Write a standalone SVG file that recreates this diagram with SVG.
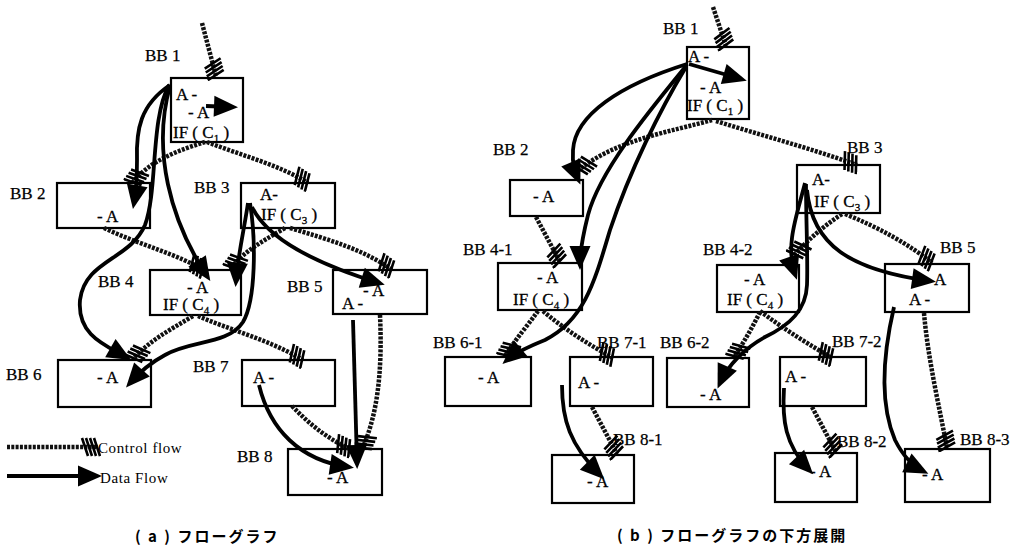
<svg xmlns="http://www.w3.org/2000/svg" width="1017" height="551" viewBox="0 0 1017 551">
<style>
.box{fill:#fff;stroke:#000;stroke-width:2.2}
.t{font-family:"Liberation Serif",serif;font-size:17px;fill:#000;stroke:#000;stroke-width:0.3}
.lbl{font-family:"Liberation Serif",serif;font-size:17px;fill:#000;stroke:#000;stroke-width:0.25}
.sub{font-size:11px}
.leg{font-family:"Liberation Serif",serif;font-size:15px;fill:#000;letter-spacing:0.6px}
.cap{font-family:"Noto Sans CJK JP","Noto Sans CJK SC",sans-serif;font-size:15px;font-weight:bold;fill:#000;letter-spacing:2px}
.cf{fill:none;stroke:#111;stroke-width:4.5;stroke-dasharray:3 1.3;marker-end:url(#hatch)}
.df{fill:none;stroke:#000;stroke-width:3.8;marker-end:url(#head)}
</style>
<defs>
<marker id="hatch" viewBox="-22 -11 25 22" refX="0" refY="0" markerWidth="25" markerHeight="22" markerUnits="userSpaceOnUse" orient="auto">
<path d="M-4,-9 L2,9 M-8,-9 L-2,9 M-12,-9 L-6,9 M-16,-9 L-10,9" stroke="#000" stroke-width="2.6" fill="none" stroke-dasharray="none"/>
</marker>
<marker id="head" viewBox="-24 -12 27 24" refX="-4" refY="0" markerWidth="27" markerHeight="24" markerUnits="userSpaceOnUse" orient="auto">
<path d="M2,0 L-22,-10.5 L-22,10.5 Z" fill="#000" stroke="none"/>
</marker>
</defs>
<rect width="1017" height="551" fill="#fff"/>

<!-- ===== (a) ===== -->
<g id="a-BB1">
<rect class="box" x="171" y="78" width="72" height="64"/>
<text class="lbl" x="145" y="61">BB 1</text>
<text class="t" x="176" y="100">A -</text>
<text class="t" x="188" y="118">- A</text>
<text class="t" x="173" y="138">IF ( C<tspan class="sub" dy="4">1</tspan><tspan dy="-4"> )</tspan></text>
</g>
<g id="a-BB2">
<rect class="box" x="57" y="183" width="93" height="45"/>
<text class="lbl" x="10" y="199">BB 2</text>
<text class="t" x="97" y="222">- A</text>
</g>
<g id="a-BB3">
<rect class="box" x="241" y="183" width="94" height="45"/>
<text class="lbl" x="194" y="193">BB 3</text>
<text class="t" x="260" y="200">A-</text>
<text class="t" x="261" y="220">IF ( C<tspan class="sub" dy="4">3</tspan><tspan dy="-4"> )</tspan></text>
</g>
<g id="a-BB4">
<rect class="box" x="150" y="270" width="91" height="45"/>
<text class="lbl" x="98" y="287">BB 4</text>
<text class="t" x="187" y="293">- A</text>
<text class="t" x="163" y="310">IF ( C<tspan class="sub" dy="4">4</tspan><tspan dy="-4"> )</tspan></text>
</g>
<g id="a-BB5">
<rect class="box" x="333" y="270" width="94" height="44"/>
<text class="lbl" x="287" y="292">BB 5</text>
<text class="t" x="363" y="296">- A</text>
<text class="t" x="342" y="309">A -</text>
</g>
<g id="a-BB6">
<rect class="box" x="58" y="360" width="93" height="47"/>
<text class="lbl" x="6" y="380">BB 6</text>
<text class="t" x="97" y="383">- A</text>
</g>
<g id="a-BB7">
<rect class="box" x="242" y="360" width="93" height="46"/>
<text class="lbl" x="193" y="372">BB 7</text>
<text class="t" x="253" y="383">A -</text>
</g>
<g id="a-BB8">
<rect class="box" x="288" y="449" width="94" height="46"/>
<text class="lbl" x="237" y="462">BB 8</text>
<text class="t" x="327" y="483">- A</text>
</g>

<g id="a-connectors">
<path class="cf" d="M202,23 L216,76"/>
<path class="cf" d="M205,142 C180,150 150,160 132,183"/>
<path class="cf" d="M207,142 C240,155 280,165 308,183"/>
<path class="cf" d="M104,228 C140,245 180,255 203,270"/>
<path class="cf" d="M285,228 C265,240 245,250 231,268"/>
<path class="cf" d="M290,228 C330,240 365,250 392,270"/>
<path class="cf" d="M193,316 C170,330 150,340 133,359"/>
<path class="cf" d="M198,316 C230,330 270,340 303,360"/>
<path class="cf" d="M380,315 C382,360 380,410 362,449"/>
<path class="cf" d="M292,406 C310,425 330,440 350,449"/>

<path class="df" d="M206,106 L232,107"/>
<path class="df" d="M170,85 C140,105 136,130 137,160 C137,180 136,192 134,203"/>
<path class="df" d="M170,86 C152,150 170,220 207,276"/>
<path class="df" d="M169,85 C150,120 158,190 145,225 C130,260 85,260 80,300 C77,335 105,345 126,357"/>
<path class="df" d="M248,203 C244,230 238,255 236,281"/>
<path class="df" d="M250,203 C256,240 256,300 243,322 C228,345 190,340 165,355 C150,363 138,374 130,383"/>
<path class="df" d="M252,207 C268,240 320,265 379,283"/>
<path class="df" d="M353,320 L357,463"/>
<path class="df" d="M259,385 C270,430 300,460 348,467"/>
</g>

<g id="legend">
<path class="cf" d="M7,447 L98,447"/>
<path class="df" d="M7,476 L96,476"/>
<text class="leg" x="98" y="453">Control flow</text>
<text class="leg" x="100" y="483">Data  Flow</text>
</g>
<text class="cap" x="135" y="542">( a ) フローグラフ</text>

<!-- ===== (b) ===== -->
<g id="b-BB1">
<rect class="box" x="687" y="47" width="62" height="72"/>
<text class="lbl" x="663" y="34">BB 1</text>
<text class="t" x="688" y="62">A -</text>
<text class="t" x="700" y="93">- A</text>
<text class="t" x="687" y="111">IF ( C<tspan class="sub" dy="4">1</tspan><tspan dy="-4"> )</tspan></text>
</g>
<g id="b-BB2">
<rect class="box" x="510" y="180" width="73" height="36"/>
<text class="lbl" x="493" y="155">BB 2</text>
<text class="t" x="533" y="202">- A</text>
</g>
<g id="b-BB3">
<rect class="box" x="797" y="165" width="83" height="48"/>
<text class="lbl" x="847" y="153">BB 3</text>
<text class="t" x="812" y="185">A-</text>
<text class="t" x="814" y="207">IF ( C<tspan class="sub" dy="4">3</tspan><tspan dy="-4"> )</tspan></text>
</g>
<g id="b-BB4-1">
<rect class="box" x="498" y="263" width="84" height="47"/>
<text class="lbl" x="463" y="255">BB 4-1</text>
<text class="t" x="537" y="283">- A</text>
<text class="t" x="513" y="305">IF ( C<tspan class="sub" dy="4">4</tspan><tspan dy="-4"> )</tspan></text>
</g>
<g id="b-BB4-2">
<rect class="box" x="717" y="265" width="82" height="47"/>
<text class="lbl" x="703" y="255">BB 4-2</text>
<text class="t" x="744" y="285">- A</text>
<text class="t" x="727" y="305">IF ( C<tspan class="sub" dy="4">4</tspan><tspan dy="-4"> )</tspan></text>
</g>
<g id="b-BB5">
<rect class="box" x="885" y="264" width="84" height="48"/>
<text class="lbl" x="940" y="253">BB 5</text>
<text class="t" x="934" y="285">A</text>
<text class="t" x="909" y="305">A -</text>
</g>
<g id="b-BB6-1">
<rect class="box" x="445" y="357" width="86" height="49"/>
<text class="lbl" x="433" y="348">BB 6-1</text>
<text class="t" x="478" y="383">- A</text>
</g>
<g id="b-BB7-1">
<rect class="box" x="570" y="357" width="83" height="49"/>
<text class="lbl" x="597" y="348">BB 7-1</text>
<text class="t" x="578" y="388">A -</text>
</g>
<g id="b-BB6-2">
<rect class="box" x="667" y="358" width="82" height="49"/>
<text class="lbl" x="660" y="348">BB 6-2</text>
<text class="t" x="700" y="400">- A</text>
</g>
<g id="b-BB7-2">
<rect class="box" x="780" y="357" width="86" height="49"/>
<text class="lbl" x="832" y="347">BB 7-2</text>
<text class="t" x="785" y="382">A -</text>
</g>
<g id="b-BB8-1">
<rect class="box" x="552" y="455" width="82" height="48"/>
<text class="lbl" x="613" y="445">BB 8-1</text>
<text class="t" x="587" y="487">- A</text>
</g>
<g id="b-BB8-2">
<rect class="box" x="775" y="453" width="82" height="49"/>
<text class="lbl" x="837" y="447">BB 8-2</text>
<text class="t" x="810" y="477">- A</text>
</g>
<g id="b-BB8-3">
<rect class="box" x="905" y="449" width="85" height="53"/>
<text class="lbl" x="960" y="445">BB 8-3</text>
<text class="t" x="922" y="480">- A</text>
</g>

<g id="b-connectors">
<path class="cf" d="M713,7 L726,46"/>
<path class="cf" d="M712,120 C670,132 615,140 579,170"/>
<path class="cf" d="M716,121 C760,135 810,148 857,165"/>
<path class="cf" d="M536,217 L560,262"/>
<path class="cf" d="M842,214 C825,225 810,238 794,255"/>
<path class="cf" d="M845,214 C880,228 910,245 932,263"/>
<path class="cf" d="M538,311 C528,325 515,340 505,356"/>
<path class="cf" d="M543,311 C565,330 590,345 613,358"/>
<path class="cf" d="M760,312 C752,328 744,342 734,357"/>
<path class="cf" d="M760,311 C785,330 810,345 832,358"/>
<path class="cf" d="M924,313 C928,360 940,410 947,448"/>
<path class="cf" d="M592,407 L617,454"/>
<path class="cf" d="M812,407 L836,452"/>

<path class="df" d="M689,64 L741,79"/>
<path class="df" d="M687,64 C620,85 575,115 573,150 C572,165 575,172 578,179"/>
<path class="df" d="M686,66 C650,110 600,170 588,215 C583,235 580,252 580,264"/>
<path class="df" d="M686,67 C660,110 630,170 610,230 C595,280 585,320 545,340 C525,348 514,354 507,360"/>
<path class="df" d="M805,183 C797,215 785,245 795,274"/>
<path class="df" d="M806,184 C806,220 808,260 807,285 C806,310 790,325 765,337 C745,348 728,365 720,383"/>
<path class="df" d="M807,190 C812,245 850,270 930,281"/>
<path class="df" d="M894,307 C884,350 878,400 895,440 C905,460 915,467 923,471"/>
<path class="df" d="M562,385 C562,420 570,445 600,475"/>
<path class="df" d="M784,388 C782,420 785,445 809,470"/>
</g>
<text class="cap" x="617" y="541">( b ) フローグラフの下方展開</text>
</svg>
